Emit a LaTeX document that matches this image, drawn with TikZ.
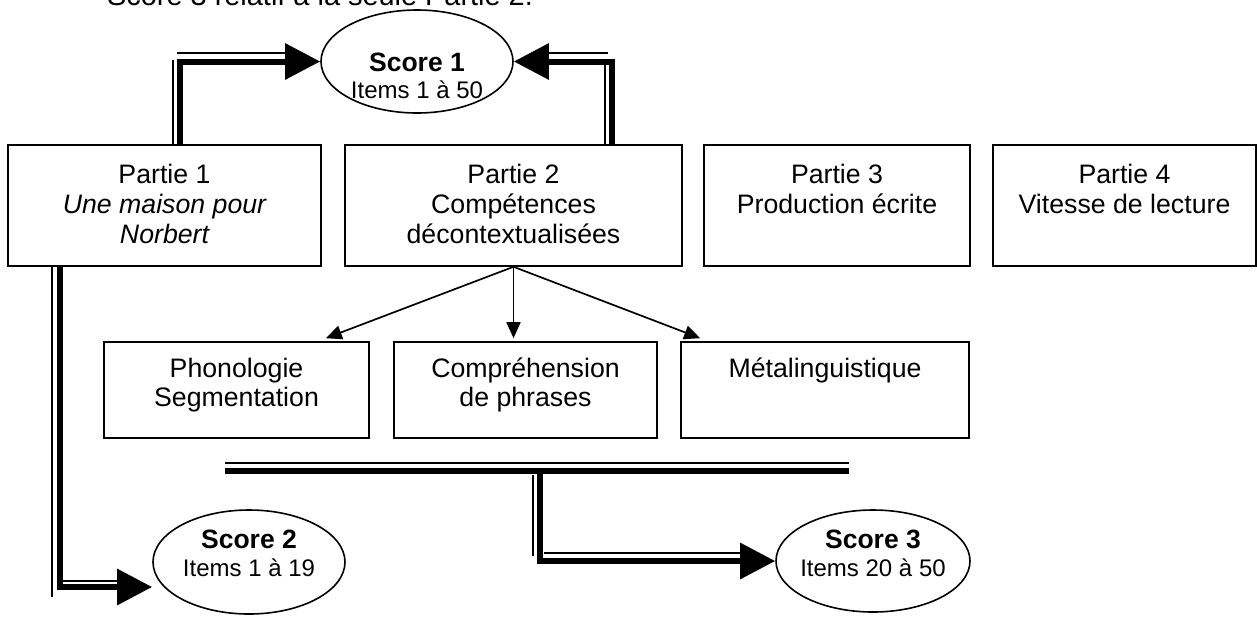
\documentclass[tikz,border=0pt]{standalone}
\usepackage{fontspec}
\setmainfont{Liberation Sans}
\usetikzlibrary{shapes.geometric,arrows.meta,calc}
\begin{document}
\begin{tikzpicture}[x=1pt,y=-1pt,
  box/.style={draw, line width=1.6pt, rectangle, inner sep=0pt},
  ell/.style={draw, line width=1.6pt, ellipse, inner sep=0pt},
  txt/.style={anchor=base, inner sep=0pt, font=\fontsize{26.7pt}{30pt}\selectfont},
  ttl/.style={anchor=base, inner sep=0pt, font=\fontsize{26.5pt}{30pt}\selectfont\bfseries},
  itm/.style={anchor=base, inner sep=0pt, font=\fontsize{24pt}{28pt}\selectfont},
  thk/.style={line width=6pt},
  thn/.style={line width=1.8pt},
  big/.style={-{Triangle[length=35pt,width=35pt]}},
  sml/.style={line width=1.7pt, -{Triangle[length=16pt,width=14pt]}},
]
\useasboundingbox (0,0) rectangle (1257,619);
\clip (0,0) rectangle (1257,619);

% heading (cut off at the top)
\node[anchor=base west, inner sep=0pt, font=\fontsize{28.9pt}{32pt}\selectfont] (head) at (107,5) {Score 3 relatif à la seule Partie 2.};

% first row of boxes
\node[box, minimum width=313pt, minimum height=121pt] (p1) at (164.5,205.5) {};
\node[box, minimum width=337pt, minimum height=121pt] (p2) at (513.5,205.5) {};
\node[box, minimum width=266pt, minimum height=121pt] (p3) at (837,205.5) {};
\node[box, minimum width=263pt, minimum height=121pt] (p4) at (1124.5,205.5) {};

\node[txt] (p1a) at (164.5,183) {Partie 1};
\node[txt] (p1b) at (164.5,213) {\itshape Une maison pour};
\node[txt] (p1c) at (164.5,243) {\itshape Norbert};
\node[txt] (p2a) at (513.5,183) {Partie 2};
\node[txt] (p2b) at (513.5,213) {Compétences};
\node[txt] (p2c) at (513.5,243) {décontextualisées};
\node[txt] (p3a) at (837,183) {Partie 3};
\node[txt] (p3b) at (837,213) {Production écrite};
\node[txt] (p4a) at (1124.5,183) {Partie 4};
\node[txt] (p4b) at (1124.5,213) {Vitesse de lecture};

% second row of boxes
\node[box, minimum width=265pt, minimum height=96pt] (ph) at (236.5,390) {};
\node[box, minimum width=263pt, minimum height=96pt] (cp) at (525.5,390) {};
\node[box, minimum width=288pt, minimum height=96pt] (mt) at (825,390) {};
\node[txt] (pha) at (236.5,377) {Phonologie};
\node[txt] (phb) at (236.5,406) {Segmentation};
\node[txt] (cpa) at (525.5,377) {Compréhension};
\node[txt] (cpb) at (525.5,406) {de phrases};
\node[txt] (mta) at (825,377) {Métalinguistique};

% score ellipses
\node[ell, minimum width=192pt, minimum height=103pt] (s1) at (417,61.5) {};
\node[ttl] (s1a) at (417,71.5) {Score 1};
\node[itm] (s1b) at (417,98.5) {Items 1 à 50};
\node[ell, minimum width=192pt, minimum height=104pt] (s2) at (249,562) {};
\node[ttl] (s2a) at (249,548) {Score 2};
\node[itm] (s2b) at (249,576) {Items 1 à 19};
\node[ell, minimum width=194pt, minimum height=102pt] (s3) at (873,561) {};
\node[ttl] (s3a) at (873,548) {Score 3};
\node[itm] (s3b) at (873,576) {Items 20 à 50};

% thin arrows from Partie 2
\draw[sml] (p2.south) -- ([xshift=-44pt,yshift=3pt]ph.north east);
\draw[sml] (p2.south) -- ([yshift=3pt]p2.south |- cp.north);
\draw[sml] (p2.south) -- ([xshift=20pt,yshift=3pt]mt.north west);

% double arrow Partie 1 -> Score 1
\draw[thn] (173,145) -- (173,60);
\draw[thn] (177,53) -- (287,53);
\draw[thk,big] ([xshift=15.5pt]p1.north) |- (s1.west);

% double arrow Partie 2 -> Score 1
\draw[thn] (605,145) -- (605,60);
\draw[thn] (547,53) -- (608,53);
\draw[thk,big] ([xshift=98.5pt]p2.north) |- (s1.east);

% double arrow Partie 1 -> Score 2
\draw[thn] (52,266) -- (52,597);
\draw[thn] (60,581) -- (120,581);
\draw[thk,big] ([xshift=-104.5pt]p1.south) |- ([yshift=-25pt]s2.west);

% double bar under the three sub-boxes, and arrow to Score 3
\coordinate (bl) at (225,471);
\coordinate (br) at (849,471);
\coordinate (bm) at (540,471);
\draw[thn] (225,463) -- (849,463);
\draw[thk] (bl) -- (br);
\draw[thn] (533,475) -- (533,556);
\draw[thn] (544,553) -- (744,553);
\draw[thk,big] (bm) |- (s3.west);
\end{tikzpicture}
\end{document}
